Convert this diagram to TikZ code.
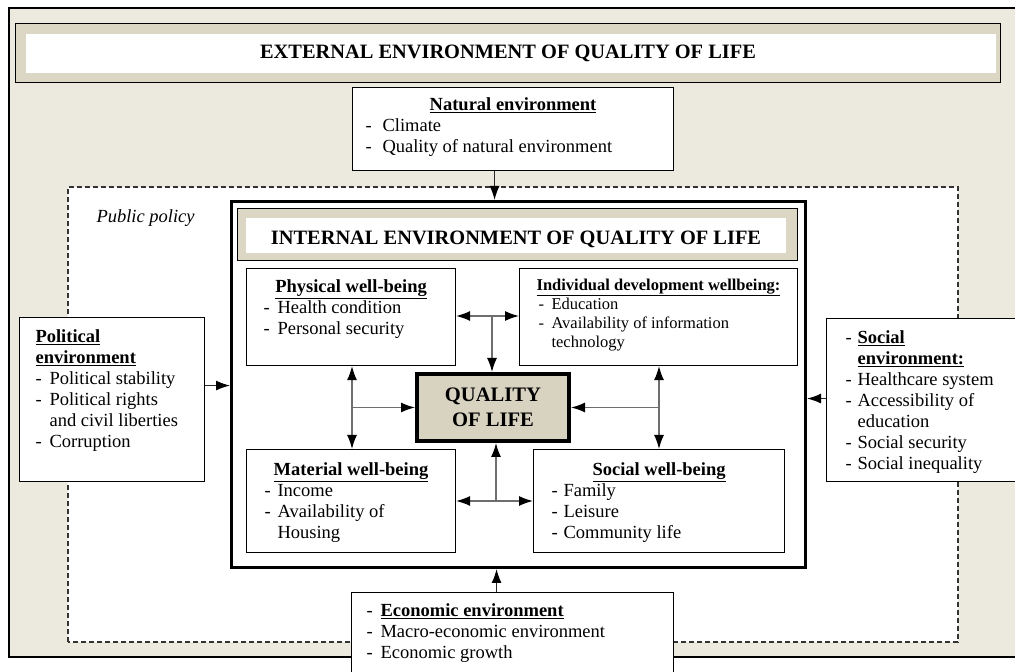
\documentclass[tikz,border=0pt]{standalone}
\usepackage{fontspec}
\setmainfont{Liberation Serif}
\usetikzlibrary{positioning,arrows.meta}

\definecolor{bgbeige}{RGB}{236,233,223}
\definecolor{titlebeige}{RGB}{220,215,196}
\definecolor{qolbeige}{RGB}{216,211,193}
\definecolor{stemgray}{RGB}{110,110,110}

\newcommand{\bodyfont}{\fontsize{18.5}{21}\selectfont}
\newcommand{\itm}[1][14pt]{\makebox[#1][l]{-}}
\newcommand{\hd}[1]{\underline{\textbf{#1}}}
\newcommand{\boxbody}[4]{\parbox[t][#2][t]{#1}{\rule{0pt}{#3}#4}}

\begin{document}
\begin{tikzpicture}[x=1pt,y=1pt,>={Latex[length=14pt,width=10pt,color=black]},
    box/.style={draw,line width=1.1pt,fill=white,inner sep=0pt,anchor=north west,font=\bodyfont},
    frame/.style={draw,line width=1pt,fill=titlebeige,inner sep=0pt,anchor=north west},
    title/.style={font=\fontsize{20.4}{24}\selectfont\bfseries,anchor=base},
    link/.style={draw=stemgray,line width=1.4pt},
    feed/.style={draw=black!85,line width=1.4pt}]
  \useasboundingbox (0,0) rectangle (1015,672);
  \clip (0,0) rectangle (1015,672);
  \fill[white] (0,0) rectangle (1015,672);

  % external environment
  \draw[line width=2.5pt,fill=bgbeige] (9,15) rectangle (1040,664);
  \node[frame,minimum width=985pt,minimum height=59pt](extF) at (15,649) {};
  \node[fill=white,inner sep=0pt,minimum width=970pt,minimum height=39pt](extW) at ([xshift=2.5pt,yshift=-1pt]extF.center) {};
  \node[title](extT) at ([yshift=-5.5pt]extF.center) {EXTERNAL ENVIRONMENT OF QUALITY OF LIFE};

  % public policy
  \draw[dash pattern=on 5pt off 3pt,line width=1.1pt,draw=black!80,fill=white] (68,30) rectangle (958,485);
  \node[font=\bodyfont\itshape,anchor=base west](policy) at (93,449) {Public policy};

  \node[box](nat) at (352,585) {\boxbody{321pt}{83pt}{23pt}{\centering\hd{Natural environment}\par\raggedright\leftskip=13pt
      \itm[17pt]Climate\\ \itm[17pt]Quality of natural environment}};
  \node[box](pol) at (19,355) {\boxbody{185pt}{164pt}{25pt}{\raggedright\leftskip=16pt \hd{Political}\\ \hd{environment}\\
      \itm Political stability\\ \itm Political rights\\ \hspace*{14pt}and civil liberties\\ \itm Corruption}};
  \node[box](soc) at (826,354) {\boxbody{200pt}{163pt}{25pt}{\raggedright\leftskip=19pt \itm[12pt]\hd{Social}\\ \hspace*{12pt}\hd{environment:}\\
      \itm[12pt]Healthcare system\\ \itm[12pt]Accessibility of\\ \hspace*{12pt}education\\ \itm[12pt]Social security\\ \itm[12pt]Social inequality}};
  \node[box](eco) at (351,80) {\boxbody{322pt}{100pt}{24pt}{\raggedright\leftskip=15pt \itm\hd{Economic environment}\\
      \itm Macro-economic environment\\ \itm Economic growth}};

  % internal environment
  \node[draw,line width=3pt,fill=white,inner sep=0pt,minimum width=574pt,minimum height=366pt,anchor=north west](int) at (230,472) {};
  \node[frame,minimum width=560pt,minimum height=52pt](intF) at (237,464) {};
  \node[fill=white,inner sep=0pt,minimum width=540pt,minimum height=35pt](intW) at ([xshift=-2pt,yshift=-1.5pt]intF.center) {};
  \node[title](intT) at ([xshift=-1.5pt,yshift=-10pt]intF.center) {INTERNAL ENVIRONMENT OF QUALITY OF LIFE};

  \node[box](phys) at (246,404) {\boxbody{209pt}{97pt}{24pt}{\centering\hd{Physical well-being}\par\raggedright\leftskip=17pt
      \itm Health condition\\ \itm Personal security}};
  \node[box](indiv) at (519,404) {\boxbody{278pt}{97pt}{22pt}{\fontsize{16.5}{19}\selectfont\centering\hd{Individual development wellbeing:}\par\raggedright\leftskip=19pt
      \itm[13pt]Education\\ \itm[13pt]Availability of information\\ \hspace*{13pt}technology}};
  \node[box](mat) at (246,223) {\boxbody{209pt}{103pt}{26pt}{\centering\hd{Material well-being}\par\raggedright\leftskip=18pt
      \itm[13pt]Income\\ \itm[13pt]Availability of\\ \hspace*{13pt}Housing}};
  \node[box](socwb) at (533,223) {\boxbody{251pt}{103pt}{26pt}{\centering\hd{Social well-being}\par\raggedright\leftskip=18pt
      \itm[12pt]Family\\ \itm[12pt]Leisure\\ \itm[12pt]Community life}};

  \node[draw,line width=4pt,fill=qolbeige,minimum width=152pt,minimum height=67pt,align=center,
        font=\fontsize{20.6}{25}\selectfont\bfseries](qol) at (493,264.5) {QUALITY\\OF LIFE};

  % junctions
  \coordinate (tj) at (492,356);
  \coordinate (lj) at (352,264.5);
  \coordinate (rj) at (659,264.5);
  \coordinate (bj) at (496,171);

  \draw[link,<->] (phys.east |- tj) -- (indiv.west |- tj);
  \draw[link,->] (tj) -- (tj |- qol.north);
  \draw[link,<->] (lj |- phys.south) -- (lj |- mat.north);
  \draw[link,->] (lj) -- (qol.west);
  \draw[link,<->] (rj |- indiv.south) -- (rj |- socwb.north);
  \draw[link,->] (rj) -- (qol.east);
  \draw[link,<->] (mat.east |- bj) -- (socwb.west |- bj);
  \draw[link,->] (bj) -- (bj |- qol.south);

  \draw[feed,->] ([xshift=-18.5pt]nat.south) -- ([xshift=-18.5pt]nat.south |- int.north);
  \draw[feed,->] ([xshift=-16pt]eco.north) -- ([xshift=-16pt]eco.north |- int.south);
  \draw[feed,->] ([yshift=14pt]pol.east) -- ([yshift=14pt]pol.east -| int.west);
  \draw[feed,->] ([yshift=1.5pt]soc.west) -- ([yshift=1.5pt]soc.west -| int.east);
\end{tikzpicture}
\end{document}
